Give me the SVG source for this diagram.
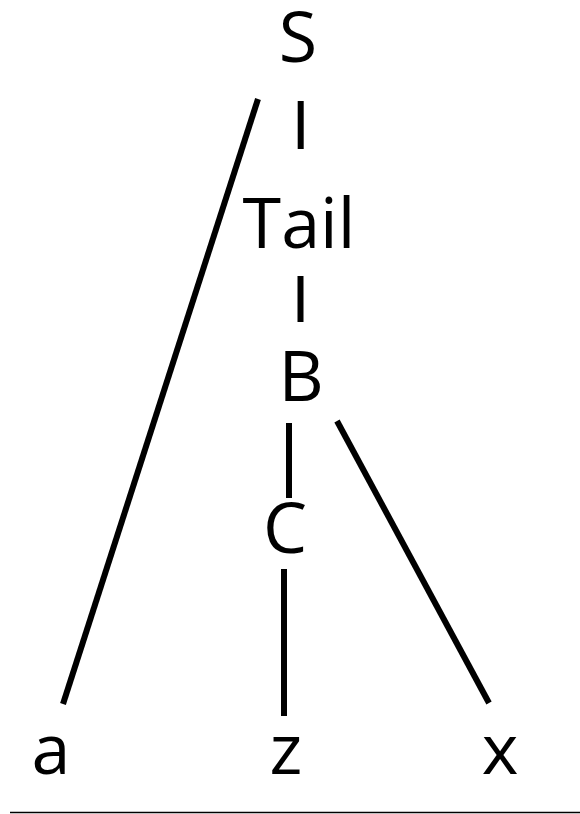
<svg xmlns="http://www.w3.org/2000/svg" width="580" height="814" viewBox="0 0 580 814">
<style>
.lbl{font-family:"Open Sans","Liberation Sans",sans-serif;font-size:70px;fill:#000;text-anchor:middle}
.edge{stroke:#000;stroke-width:6;fill:none;stroke-linecap:butt}
</style>
<rect width="580" height="814" fill="#fff"/>
<g id="connectors">
<line class="edge" x1="258" y1="99" x2="63" y2="704"/>
<line class="edge" x1="300.7" y1="101" x2="300.7" y2="149"/>
<line class="edge" x1="300.5" y1="276" x2="300.5" y2="322"/>
<line class="edge" x1="289" y1="423" x2="289" y2="498"/>
<line class="edge" x1="284" y1="569" x2="284" y2="716"/>
<line class="edge" x1="337" y1="421" x2="489" y2="703"/>
</g>
<g id="node-S"><text class="lbl" x="298" y="62">S</text></g>
<g id="node-Tail"><text class="lbl" x="299" y="248">Tail</text></g>
<g id="node-B"><text class="lbl" x="301" y="401">B</text></g>
<g id="node-C"><text class="lbl" x="285" y="553">C</text></g>
<g id="node-a"><text class="lbl" x="51" y="774">a</text></g>
<g id="node-z"><text class="lbl" x="286" y="774">z</text></g>
<g id="node-x"><text class="lbl" x="500" y="774">x</text></g>
<line x1="10" y1="812.5" x2="580" y2="812.5" stroke="#000" stroke-width="1.5"/>
</svg>
